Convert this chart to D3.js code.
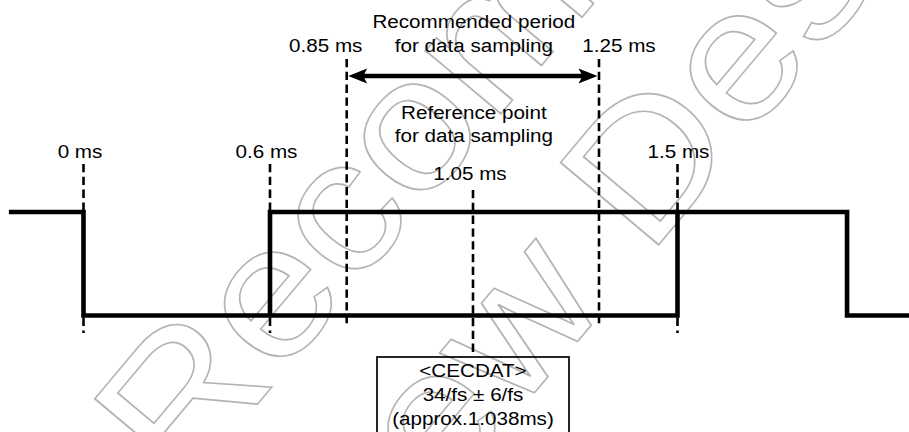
<!DOCTYPE html>
<html lang="en">

<head>
  <meta charset="utf-8">
  <title>CEC data bit timing</title>
  <script type="text/javascript" src="https://cdn.jsdelivr.net/npm/d3@7/dist/d3.min.js"></script>
  <style>
    body { margin: 0; background: #fff; }
    svg { display: block; }
    text { font-family: "Liberation Sans", Arial, Helvetica, sans-serif; font-size: 18.6px; fill: #000; }
  </style>
</head>

<body>
  <svg class="chart"></svg>
  <script type="text/javascript">
    // timing markers (ms) and their labels
    var markerTimes = [0, 0.6, 0.85, 1.05, 1.25, 1.5];
    var markerLabels = ["0 ms", "0.6 ms", "0.85 ms", "1.05 ms", "1.25 ms", "1.5 ms"];
    var markerKinds = ["edge", "edge", "window", "ref", "window", "edge"];

    // signal: level after each time (step)
    var waveTimes = [-0.24, 0, 1.5, 2.04, 2.24];
    var waveLevels = [1, 0, 1, 0, 0];
    // the "either level" data bit
    var dataTimes = [0.6, 0.6, 1.5];
    var dataLevels = [0, 1, 1];

    var periodRange = [0.85, 1.25];
    var periodText = ["Recommended period", "for data sampling"];
    var refText = ["Reference point", "for data sampling"];
    var boxText = ["<CECDAT>", "34/fs \u00b1 6/fs", "(approx.1.038ms)"];
    var watermarkText = [["Not ", "Recommended"], ["for ", "New Design"]];

    var w = 909;
    var h = 432;
    var sx = 1.11; // text is a bit wide in the original

    var svg = d3.select("svg")
      .attr("width", w)
      .attr("height", h);

    // the drawing is schematic, so time maps piecewise
    var x = d3.scaleLinear()
      .domain(markerTimes)
      .range([83.5, 270, 346.7, 473, 599, 677.5]);

    var y = d3.scaleLinear()
      .domain([0, 1])
      .range([315.5, 212]);

    var kindLayout = {
      edge: { top: 164, bottom: 333, labelY: 158 },
      window: { top: 59, bottom: 324, labelY: 52 },
      ref: { top: 190, bottom: 352, labelY: 180 }
    };
    var labelDx = [-3.5, -3.5, -21, -3, 20, 1];

    function label(g, px, py, t) {
      return g.append("text")
        .attr("text-anchor", "middle")
        .attr("transform", "translate(" + px + "," + py + ") scale(" + sx + ",1)")
        .text(t);
    }

    // watermark (outlined, behind everything)
    var wm = svg.append("g")
      .attr("transform", "translate(182,494) rotate(-50) scale(1.11,1)");
    var wmStart = [[0, 0], [9, 205]];
    watermarkText.forEach(function(parts, i) {
      var t = wm.append("text")
        .attr("y", wmStart[i][1])
        .style("font-size", "186px")
        .style("fill", "none")
        .style("stroke", "#b4b4b4")
        .style("stroke-width", 1.6);
      t.append("tspan").text(parts[0]);
      t.append("tspan").text(parts[1]);
      var pre = t.node().getSubStringLength(0, parts[0].length);
      t.attr("x", wmStart[i][0] - pre);
    });

    // dashed timing lines
    svg.selectAll("line.mark")
      .data(markerTimes)
      .enter()
      .append("line")
      .attr("class", "mark")
      .attr("x1", function(d) { return x(d); })
      .attr("x2", function(d) { return x(d); })
      .attr("y1", function(d, i) { return kindLayout[markerKinds[i]].top; })
      .attr("y2", function(d, i) { return kindLayout[markerKinds[i]].bottom; })
      .attr("stroke", "#000")
      .attr("stroke-width", 2.6)
      .attr("stroke-dasharray", "8.3,4.5");

    // marker labels
    markerTimes.forEach(function(t, i) {
      label(svg, x(t) + labelDx[i], kindLayout[markerKinds[i]].labelY, markerLabels[i]);
    });

    // signal
    var wave = d3.line()
      .x(function(d) { return x(d[0]); })
      .y(function(d) { return y(d[1]); })
      .curve(d3.curveStepAfter);

    svg.append("path")
      .datum(d3.zip(waveTimes, waveLevels))
      .attr("d", wave)
      .attr("fill", "none")
      .attr("stroke", "#000")
      .attr("stroke-width", 4.6)
      .attr("stroke-linejoin", "miter")
      .attr("stroke-linecap", "butt");

    svg.append("path")
      .datum(d3.zip(dataTimes, dataLevels))
      .attr("d", d3.line()
        .x(function(d) { return x(d[0]); })
        .y(function(d) { return y(d[1]); }))
      .attr("fill", "none")
      .attr("stroke", "#000")
      .attr("stroke-width", 4.6)
      .attr("stroke-linejoin", "miter");

    // recommended period arrow
    var ay = 76;
    var x0 = x(periodRange[0]) + 1.5;
    var x1 = x(periodRange[1]) - 1.5;
    svg.append("line")
      .attr("x1", x0 + 10).attr("x2", x1 - 10)
      .attr("y1", ay).attr("y2", ay)
      .attr("stroke", "#000")
      .attr("stroke-width", 4.4);
    [[x0, 1], [x1, -1]].forEach(function(a) {
      var tx = a[0], s = a[1];
      svg.append("path")
        .attr("d", "M" + tx + "," + ay +
          "L" + (tx + s * 19) + "," + (ay - 7.5) +
          "L" + (tx + s * 15) + "," + ay +
          "L" + (tx + s * 19) + "," + (ay + 7.5) + "Z")
        .attr("fill", "#000");
    });

    var mid = (x(periodRange[0]) + x(periodRange[1])) / 2 + 1;
    periodText.forEach(function(t, i) { label(svg, mid, 28 + i * 23.6, t); });
    refText.forEach(function(t, i) { label(svg, mid, 119 + i * 23.4, t); });

    // CECDAT box
    var bx = x(1.05);
    svg.append("rect")
      .attr("x", bx - 96)
      .attr("y", 357)
      .attr("width", 192)
      .attr("height", 90)
      .attr("fill", "none")
      .attr("stroke", "#000")
      .attr("stroke-width", 1.7);
    boxText.forEach(function(t, i) { label(svg, bx, 377 + i * 24, t); });
  </script>
</body>

</html>
